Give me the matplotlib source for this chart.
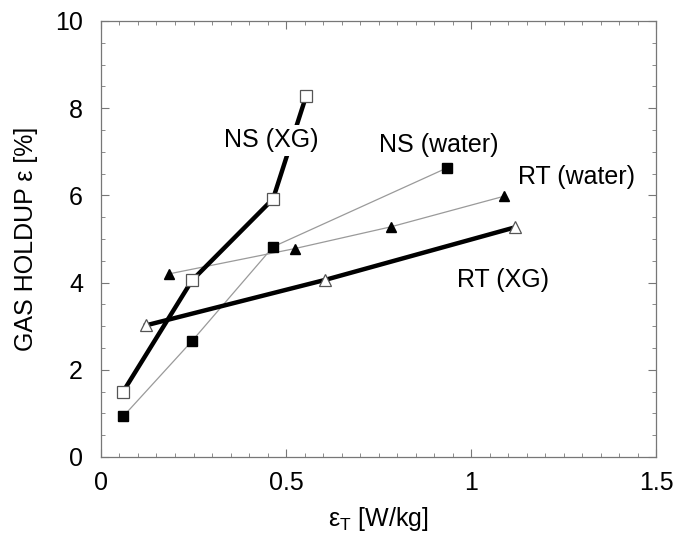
import matplotlib
matplotlib.use("Agg")
import matplotlib.pyplot as plt
from matplotlib.ticker import MultipleLocator

plt.rcParams['font.family'] = ['Liberation Sans', 'DejaVu Sans']

# Gas holdup vs specific power input
ns_xg_x = [0.06, 0.246, 0.465, 0.554]
ns_xg_y = [1.5, 4.05, 5.92, 8.27]

ns_water_x = [0.06, 0.246, 0.465, 0.935]
ns_water_y = [0.93, 2.66, 4.82, 6.63]

rt_water_x = [0.184, 0.524, 0.784, 1.089]
rt_water_y = [4.2, 4.78, 5.28, 5.98]

rt_xg_x = [0.122, 0.605, 1.12]
rt_xg_y = [3.02, 4.06, 5.27]

x_ticks = [0, 0.5, 1, 1.5]
x_tick_labels = ["0", "0.5", "1", "1.5"]
y_ticks = [0, 2, 4, 6, 8, 10]

fig = plt.figure(figsize=(6.75, 5.38), dpi=100)
ax = fig.add_axes([0.1496, 0.1506, 0.8224, 0.8104])

thin = dict(color="#9a9a9a", lw=0.9, zorder=2)
thick = dict(color="black", lw=3.2, zorder=3)

ax.plot(ns_water_x, ns_water_y, **thin)
ax.plot(rt_water_x, rt_water_y, **thin)
ax.plot(ns_xg_x, ns_xg_y, **thick)
ax.plot(rt_xg_x, rt_xg_y, **thick)

ax.plot(ns_water_x, ns_water_y, ls="none", marker="s", ms=7.5,
        mfc="black", mec="black", zorder=4)
ax.plot(rt_water_x, rt_water_y, ls="none", marker="^", ms=7.5,
        mfc="black", mec="black", zorder=4)
ax.plot(ns_xg_x, ns_xg_y, ls="none", marker="s", ms=8,
        mfc="white", mec="#555555", mew=0.9, zorder=4)
ax.plot(rt_xg_x, rt_xg_y, ls="none", marker="^", ms=8.5,
        mfc="white", mec="#555555", mew=0.9, zorder=4)

lab = dict(fontsize=18, ha="center", va="center", zorder=5)
ax.text(0.46, 7.27, "NS (XG)",
        bbox=dict(facecolor="white", edgecolor="none", pad=2.5), **lab)
ax.text(0.913, 7.16, "NS (water)", **lab)
ax.text(1.286, 6.42, "RT (water)", **lab)
ax.text(1.086, 4.06, "RT (XG)", **lab)

ax.set_xlim(0, 1.5)
ax.set_ylim(0, 10)
ax.set_xticks(x_ticks)
ax.set_xticklabels(x_tick_labels)
ax.set_yticks(y_ticks)
ax.xaxis.set_minor_locator(MultipleLocator(0.05))
ax.yaxis.set_minor_locator(MultipleLocator(0.5))
ax.tick_params(which="both", direction="in", top=True, right=True,
               color="#777777", labelsize=18)
ax.tick_params(axis="x", which="major", pad=10)
ax.tick_params(axis="y", which="major", pad=13)
ax.tick_params(which="major", length=6, width=0.8)
ax.tick_params(which="minor", length=3, width=0.6)
for s in ax.spines.values():
    s.set_color("#777777")
    s.set_linewidth(0.9)

ax.set_xlabel(r"$\mathregular{\varepsilon_T}$ [W/kg]", fontsize=18, labelpad=7)
ax.set_ylabel("GAS HOLDUP ε [%]", fontsize=18, labelpad=12)

fig.savefig("out.png", dpi=100)
